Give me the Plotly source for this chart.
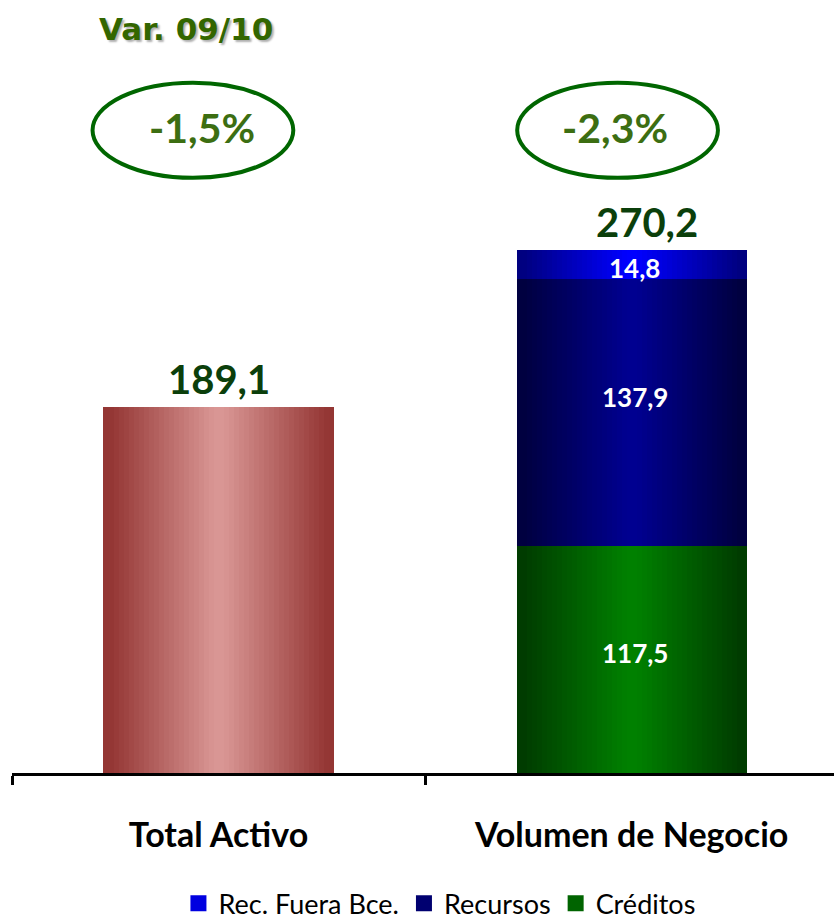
import plotly.graph_objects as go

categorias = ["Total Activo", "Volumen de Negocio"]
total_activo = [189.1]
creditos = [117.5]
recursos = [137.9]
rec_fuera = [14.8]
variaciones = ["-1,5%", "-2,3%"]


def fmt(v):
    return f"{v:.1f}".replace(".", ",")


def mezcla(c1, c2, t):
    a = [int(c1[i:i + 2], 16) for i in (1, 3, 5)]
    b = [int(c2[i:i + 2], 16) for i in (1, 3, 5)]
    return "rgb({},{},{})".format(*[round(x + (y - x) * t) for x, y in zip(a, b)])


# barras con degradado horizontal: tiras finas superpuestas
N = 46
ANCHO = 0.557
paso = ANCHO / N


def barra_degradado(fig, x, y, base, borde, centro):
    for i in range(N):
        u = (i + 0.5) / N * 2 - 1
        t = max(0.0, min(1.0, (1 - abs(u) - 0.06) / 0.9))
        fig.add_trace(go.Bar(
            x=x, y=y, base=base,
            width=paso * 1.08, offset=-ANCHO / 2 + i * paso,
            marker=dict(color=mezcla(borde, centro, t), line=dict(width=0)),
            showlegend=False, hoverinfo="skip",
        ))


def entrada_leyenda(fig, nombre, color):
    # solo para la leyenda (cuadrado grande)
    fig.add_trace(go.Scatter(x=[None], y=[None], mode="markers", name=nombre,
                             marker=dict(symbol="square", size=16, color=color)))


fig = go.Figure()
barra_degradado(fig, [categorias[0]], total_activo, [0], "#943634", "#D99694")
barra_degradado(fig, [categorias[1]], creditos, [0], "#003C00", "#008000")
barra_degradado(fig, [categorias[1]], recursos, creditos, "#000040", "#000090")
barra_degradado(fig, [categorias[1]], rec_fuera, [creditos[0] + recursos[0]], "#000080", "#0000FF")

entrada_leyenda(fig, "Rec. Fuera Bce.", "#0000E0")
entrada_leyenda(fig, "Recursos", "#000070")
entrada_leyenda(fig, "Créditos", "#006400")

totales = [total_activo[0], creditos[0] + recursos[0] + rec_fuera[0]]
anotaciones = []
for i, tot in enumerate(totales):
    anotaciones.append(dict(x=categorias[i], y=tot, text=f"<b>{fmt(tot)}</b>", showarrow=False,
                            yshift=28, xshift=[0, 15][i],
                            font=dict(family="Lato", size=40, color="#0B3F0B")))

# etiquetas interiores
segmentos = [(creditos[0], 0, 6), (recursos[0], creditos[0], 15), (rec_fuera[0], creditos[0] + recursos[0], -3)]
for val, base, dy in segmentos:
    anotaciones.append(dict(x=categorias[1], y=base + val / 2, text=f"<b>{fmt(val)}</b>", showarrow=False,
                            yshift=dy, xshift=3, font=dict(family="Lato", size=26, color="white")))

# variaciones
for i, v in enumerate(variaciones):
    anotaciones.append(dict(x=i - 0.04, xref="x", y=0.835, yref="paper", text=f"<b>{v}</b>",
                            xanchor="center", yanchor="middle", showarrow=False,
                            font=dict(family="Lato", size=41, color="#3C6E12")))
anotaciones.append(dict(x=-0.079, xref="x", y=0.963, yref="paper", text="<b>Var. 09/10</b>",
                        xanchor="center", yanchor="middle", showarrow=False,
                        font=dict(family="DejaVu Sans", size=31, color="#336600",
                                  shadow="2px 2px 2px #b0b0b0")))

formas = []
for i, dx in enumerate([-0.062, -0.034]):
    formas.append(dict(type="circle", xref="x", yref="paper",
                       x0=i + dx - 0.243, x1=i + dx + 0.243, y0=0.770, y1=0.893,
                       line=dict(color="#006600", width=4)))

fig.update_layout(
    width=834, height=923,
    margin=dict(l=12, r=0, t=0, b=150),
    plot_bgcolor="white", paper_bgcolor="white",
    barmode="overlay", bargap=0,
    annotations=anotaciones, shapes=formas,
    showlegend=True,
    legend=dict(orientation="h", x=0.52, xanchor="center", yref="container", y=0.021, yanchor="middle",
                font=dict(family="Lato", size=27, color="black"), traceorder="normal",
                itemwidth=30, itemsizing="trace"),
    xaxis=dict(type="category", range=[-0.5, 1.49], showline=True, linecolor="black", linewidth=3,
               ticks="outside", tickson="boundaries", ticklen=9, tickwidth=3, tickcolor="black",
               ticklabelstandoff=30, showgrid=False,
               tickfont=dict(family="Lato", size=34, color="black"),
               tickvals=categorias, ticktext=[f"<b>{c}</b>" for c in categorias]),
    yaxis=dict(range=[0, 399.7], visible=False, showgrid=False),
)

fig.write_html("out.html", config={"displayModeBar": False},
               post_script="document.body.style.margin='0';")
